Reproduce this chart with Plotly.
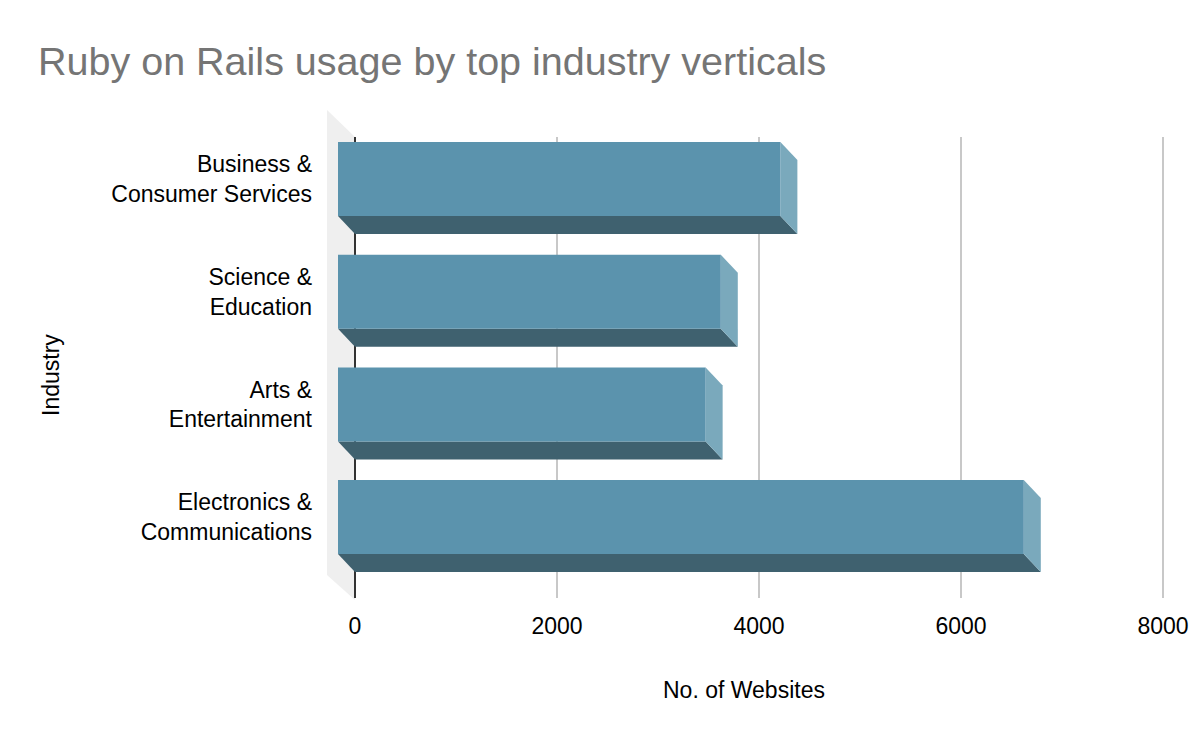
import plotly.graph_objects as go

# ---- data ----
categories = ["Business &<br>Consumer Services", "Science &<br>Education",
              "Arts &<br>Entertainment", "Electronics &<br>Communications"]
websites = [4380, 3790, 3640, 6790]
x_ticks = [0, 2000, 4000, 6000, 8000]
x_tick_labels = ["0", "2000", "4000", "6000", "8000"]

# ---- styling ----
FRONT = "#5b93ad"
SIDE = "#7aa9bc"
BOTTOM = "#3f616f"
WALL = "#efefef"
FONT = "Liberation Sans, Arial, sans-serif"
OFF = 8  # page body margin
FS = 23

W, H = 1200, 742
L = 327 - OFF
T = 137 - OFF
plot_right = 1170 - OFF
plot_bottom = 598 - OFF
R = W - plot_right
B = H - plot_bottom
plot_w = W - L - R
plot_h = H - T - B
px_per_unit = 0.101            # x scale
x0 = -(28 / px_per_unit)
x1 = x0 + plot_w / px_per_unit
py_per_cat = 112.7             # y scale (pixels per category)
y_top = -(179 - 137) / py_per_cat
y_bot = y_top + plot_h / py_per_cat

DX = 17 / px_per_unit          # depth offset, x units
DY = 18 / py_per_cat           # depth offset, category units
HH = 37 / py_per_cat           # half-height of front face

fig = go.Figure()

for i, (cat, v) in enumerate(zip(categories, websites)):
    c = i
    # bottom face
    fig.add_trace(go.Scatter(
        x=[-DX, v - DX, v, 0, -DX],
        y=[c + HH, c + HH, c + HH + DY, c + HH + DY, c + HH],
        fill="toself", fillcolor=BOTTOM, mode="lines",
        line=dict(width=0, color=BOTTOM), hoverinfo="skip", showlegend=False))
    # right side face
    fig.add_trace(go.Scatter(
        x=[v - DX, v, v, v - DX, v - DX],
        y=[c - HH, c - HH + DY, c + HH + DY, c + HH, c - HH],
        fill="toself", fillcolor=SIDE, mode="lines",
        line=dict(width=0, color=SIDE), hoverinfo="skip", showlegend=False))
    # front face
    fig.add_trace(go.Scatter(
        x=[-DX, v - DX, v - DX, -DX, -DX],
        y=[c - HH, c - HH, c + HH, c + HH, c - HH],
        fill="toself", fillcolor=FRONT, mode="lines",
        line=dict(width=0, color=FRONT), name=cat.replace("<br>", " "),
        hovertemplate="%{fullData.name}: " + str(v) + "<extra></extra>",
        showlegend=False))

# helpers: screen pixel -> paper coordinates
def px(xs):
    return (xs - OFF - L) / plot_w

def py(ys):
    return 1 - (ys - OFF - T) / plot_h

# left 3D wall (chart furniture)
wall_path = "M {} {} L {} {} L {} {} L {} {} Z".format(
    px(327), py(110), px(355), py(137), px(355), py(600), px(327), py(575))
fig.add_shape(type="path", path=wall_path, xref="paper", yref="paper",
              fillcolor=WALL, line=dict(width=0), layer="below")

fig.add_annotation(text="No. of Websites", xref="paper", yref="paper",
                   x=px(744), y=py(690), xanchor="center", yanchor="middle",
                   showarrow=False, font=dict(size=FS, color="#000000"))
fig.add_annotation(text="Industry", xref="paper", yref="paper",
                   x=px(51), y=py(375), xanchor="center", yanchor="middle",
                   textangle=-90, showarrow=False,
                   font=dict(size=FS, color="#000000"))

fig.update_layout(
    width=W, height=H,
    margin=dict(l=L, r=R, t=T, b=B, autoexpand=False),
    paper_bgcolor="white", plot_bgcolor="rgba(0,0,0,0)",
    font=dict(family=FONT, color="#000000", size=FS),
    title=dict(text="Ruby on Rails usage by top industry verticals",
               x=(38 - OFF) / W, xanchor="left", xref="container",
               y=1 - (61 - OFF) / H, yanchor="middle", yref="container",
               font=dict(size=39.5, color="#757575", family=FONT)),
    xaxis=dict(range=[x0, x1], tickvals=x_ticks, ticktext=x_tick_labels,
               showgrid=True, gridcolor="#c8c8c8", gridwidth=1.5,
               zeroline=True, zerolinecolor="#333333", zerolinewidth=2,
               showline=False, ticks="", ticklabelstandoff=12,
               tickfont=dict(size=FS)),
    yaxis=dict(range=[y_bot, y_top], tickvals=list(range(len(categories))),
               ticktext=categories, showgrid=False, zeroline=False,
               showline=False, ticks="", ticklabelstandoff=14,
               tickfont=dict(size=FS)),
)

fig.write_html("out.html")
